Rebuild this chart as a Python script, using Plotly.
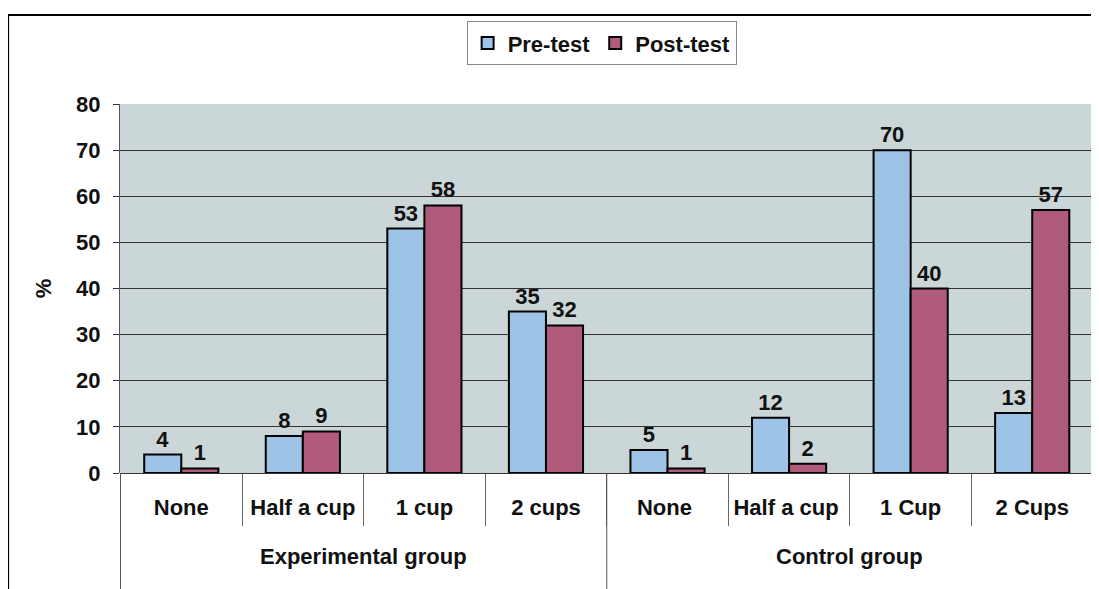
import plotly.graph_objects as go

# --- Data ---
CATEGORIES = ['None', 'Half a cup', '1 cup', '2 cups', 'None ', 'Half a cup ', '1 Cup', '2 Cups']
GROUPS = ['Experimental group', 'Control group']
GROUP_SIZE = 4
PRE_TEST = [4, 8, 53, 35, 5, 12, 70, 13]
POST_TEST = [1, 9, 58, 32, 1, 2, 40, 57]

# --- Style ---
COLOR_PRE = '#9DC3E6'
COLOR_POST = '#B05A7C'
PLOT_BG = '#CBD6D8'
FONT = 'Liberation Sans, Arial, sans-serif'
TXT = dict(size=22, color='#111111', family=FONT, weight='bold')

fig = go.Figure()
for name, vals, col in [('Pre-test', PRE_TEST, COLOR_PRE), ('Post-test', POST_TEST, COLOR_POST)]:
    fig.add_trace(go.Bar(
        name=name, x=CATEGORIES, y=vals,
        marker=dict(color=col, line=dict(color='black', width=2)),
        text=vals, textposition='outside', cliponaxis=False,
        textfont=TXT,
    ))

shapes = []
annotations = []
# group labels under the category labels
for g, label in enumerate(GROUPS):
    start = g * GROUP_SIZE - 0.5
    end = start + GROUP_SIZE
    annotations.append(dict(
        x=(start + end) / 2, y=-0.225, xref='x', yref='paper', text=label,
        yanchor='middle', showarrow=False, font=TXT,
    ))
# group dividers (span both label rows)
for b in [-0.5, GROUP_SIZE - 0.5]:
    shapes.append(dict(type='line', xref='x', yref='paper', x0=b, x1=b,
                       y0=0, y1=-0.33, line=dict(color='#555555', width=1)))

# page frame (top and left lines)
shapes.append(dict(type='line', xref='paper', yref='paper', x0=-0.115, x1=1.01,
                   y0=1.241, y1=1.241, line=dict(color='black', width=2)))
shapes.append(dict(type='line', xref='paper', yref='paper', x0=-0.115, x1=-0.115,
                   y0=1.241, y1=-0.33, line=dict(color='black', width=2)))

# page body has an 8px margin, so the figure is sized to fit the window
fig.update_layout(
    width=1091, height=581,
    margin=dict(l=112, r=6, t=96, b=116, autoexpand=False),
    paper_bgcolor='white', plot_bgcolor=PLOT_BG,
    barmode='group', bargap=0.39, bargroupgap=0,
    font=TXT,
    legend=dict(
        orientation='h', x=0.495, y=1.165, xanchor='center', yanchor='middle',
        bordercolor='#888888', borderwidth=1, bgcolor='white',
        font=TXT, itemwidth=30, tracegroupgap=0,
    ),
    xaxis=dict(
        type='category', tickson='boundaries', ticks='outside', ticklen=52,
        tickcolor='#666666', tickwidth=1, showgrid=False, automargin=False,
        showline=False, tickfont=TXT, ticklabelstandoff=19,
    ),
    yaxis=dict(
        range=[0, 80], dtick=10, showgrid=True, gridcolor='#333333', gridwidth=1,
        zeroline=True, zerolinecolor='#333333', zerolinewidth=1,
        ticks='outside', ticklen=6, tickcolor='#333333', automargin=False,
        showline=True, linecolor='#555555', linewidth=1,
        title=dict(text='%', standoff=18, font=TXT),
        tickfont=TXT, ticklabelstandoff=8,
    ),
    shapes=shapes, annotations=annotations,
)

fig.write_html('out.html')
